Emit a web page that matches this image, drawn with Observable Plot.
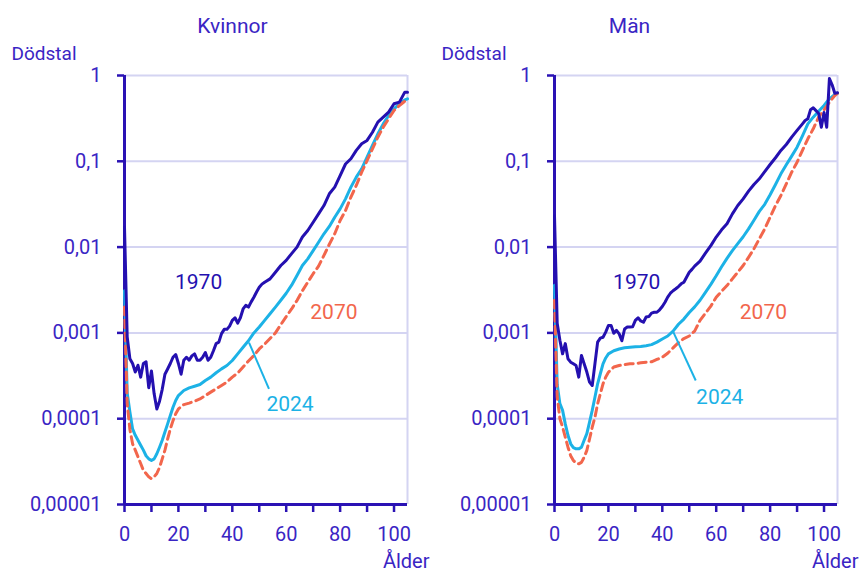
<!DOCTYPE html>
<html><head><meta charset="utf-8">
<script src="https://cdn.jsdelivr.net/npm/d3@7"></script>
<script src="https://cdn.jsdelivr.net/npm/@observablehq/plot@0.6"></script>
<style>
body{margin:0;background:#fff;}
#chart{display:flex;width:861px;height:573px;overflow:hidden;background:#fff;}
#chart svg{display:block;flex:none;}
</style></head><body><div id="chart"></div>
<script>
// ---- texts ----
const panelTitles = ["Kvinnor", "Män"];
const yAxisTitle = "Dödstal";
const xAxisTitle = "Ålder";
const yTicks = [0.00001, 0.0001, 0.001, 0.01, 0.1, 1];
const yTickLabels = ["0,00001", "0,0001", "0,001", "0,01", "0,1", "1"];
const xTicks = [0, 10, 20, 30, 40, 50, 60, 70, 80, 90, 100];
const xTickLabels = ["0", "", "20", "", "40", "", "60", "", "80", "", "100"];
const seriesNames = ["1970", "2024", "2070"];

// ---- ages ----
const agesSmooth = [0,1,2,3,4,5,6,7,8,9,10,11,12,13,14,15,16,17,18,19,20,
  22,24,26,28,30,32,34,36,38,40,42,44,46,48,50,52,54,56,58,60,62,64,66,68,70,72,74,76,78,80,
  82,84,86,88,90,92,94,96,98,100,102,104,105];
const ages1970Kvinnor = [0,1,2,3,4,5,6,7,8,9,10,11,12,13,14,15,16,17,18,19,20,21,22,23,24,25,26,27,28,29,30,
  31,32,33,34,35,36,37,38,39,40,41,42,43,44,45,46,47,48,49,50,51,52,
  54,56,58,60,62,64,66,68,70,72,74,76,78,80,82,84,86,88,90,92,94,96,98,100,102,104,105];
const ages1970Man = [0,1,2,3,4,5,6,7,8,9,10,11,12,13,14,15,16,17,18,19,20,21,22,23,24,25,26,27,28,29,30,
  31,32,33,34,35,36,37,38,39,40,41,42,43,44,45,46,47,48,49,50,51,52,
  54,56,58,60,62,64,66,68,70,72,74,76,78,80,82,84,86,88,90,92,93,94,95,96,97,98,99,100,101,102,103,104,105];

// ---- Kvinnor ----
const kvinnor1970 = [0.017,0.0009,0.0005,0.00044,0.00035,0.00042,0.000305,0.00044,0.00046,0.00023,0.00036,
  0.000195,0.00013,0.00016,0.00022,0.00033,0.00038,0.00044,0.00052,0.00056,0.00044,
  0.00033,0.00048,0.00052,0.00048,0.00054,0.00057,0.00048,0.00048,0.00052,0.00059,
  0.00048,0.00052,0.00062,0.00075,0.00078,0.00098,0.0011,0.0011,0.0012,0.0014,
  0.0015,0.0013,0.0015,0.0019,0.0021,0.0020,0.0023,0.0026,0.0030,0.0034,0.0037,0.0039,
  0.00426,0.0051,0.0061,0.0070,0.0084,0.010,0.0131,0.0156,0.0195,0.0244,0.0305,0.0418,0.050,0.0683,
  0.093,0.107,0.134,0.16,0.175,0.218,0.286,0.327,0.374,0.468,0.489,0.64,0.64];
const kvinnor2024 = [0.0031,0.0002,0.00012,0.000076,0.000064,0.000056,0.000049,0.000043,0.000037,0.000034,0.0000326,
  0.000034,0.000039,0.0000465,0.000056,0.00007,0.000087,0.000109,0.000136,0.000163,0.000186,
  0.000213,0.000229,0.000239,0.00025,0.000279,0.000305,0.000343,0.000381,0.000417,0.000477,
  0.00057,0.00068,0.00081,0.0010,0.00117,0.0014,0.00167,0.0020,0.0024,0.0029,0.0036,0.00467,
  0.0061,0.0073,0.0091,0.0114,0.0143,0.0174,0.0223,0.0279,0.0365,0.05,0.0653,0.0817,0.112,
  0.153,0.209,0.273,0.342,0.409,0.468,0.52,0.535];
const kvinnor2070 = [0.002,0.00015,0.000075,0.000051,0.000043,0.000036,0.00003,0.000025,0.000023,0.000021,0.00002,
  0.000021,0.000023,0.000027,0.000034,0.000043,0.000058,0.000076,0.000095,0.000114,0.00013,
  0.000146,0.000152,0.00016,0.00017,0.000186,0.000204,0.000223,0.000244,0.000267,0.000305,
  0.00034,0.0004,0.00047,0.000545,0.00065,0.00074,0.00086,0.0010,0.00125,0.00155,0.0019,0.00239,
  0.0031,0.0039,0.0049,0.006,0.008,0.0108,0.0143,0.0204,0.0267,0.0382,0.0523,0.0747,0.102,
  0.14,0.191,0.25,0.313,0.391,0.447,0.502,0.52];

// ---- Män ----
const man1970 = [0.023,0.0013,0.00082,0.00057,0.00075,0.0005,0.000456,0.000436,0.000417,0.000305,0.000545,
  0.000436,0.00035,0.000267,0.000244,0.000436,0.00078,0.00087,0.00089,0.00102,0.00122,
  0.00122,0.00099,0.00107,0.000975,0.00081,0.00111,0.00117,0.00117,0.00118,0.0014,
  0.0015,0.00138,0.00133,0.00153,0.00155,0.0017,0.00174,0.00174,0.00186,0.00203,
  0.00228,0.00261,0.0029,0.0031,0.00327,0.00347,0.00373,0.0039,0.00446,0.0051,0.0055,0.006,
  0.00686,0.0085,0.0104,0.0131,0.0159,0.0187,0.0244,0.0305,0.0365,0.0449,0.0537,0.0625,0.076,0.0918,
  0.11,0.134,0.157,0.191,0.229,0.273,0.299,0.313,0.40,0.42,0.39,0.36,0.25,0.37,0.25,0.92,0.78,0.62,0.63];
const man2024 = [0.0036,0.00025,0.00015,0.000125,0.000087,0.000064,0.000051,0.000046,0.0000445,0.0000445,0.0000465,
  0.000056,0.000067,0.000091,0.000125,0.000178,0.000255,0.000334,0.000436,0.00051,0.00057,
  0.00062,0.00065,0.00067,0.00068,0.00069,0.000695,0.00071,0.00073,0.00078,0.00085,
  0.00092,0.00105,0.00126,0.00145,0.00173,0.00201,0.0024,0.00297,0.00368,0.00463,0.0059,0.0074,
  0.0091,0.011,0.0132,0.0163,0.0206,0.0261,0.0315,0.0407,0.0537,0.0714,0.091,0.115,0.146,
  0.198,0.273,0.327,0.384,0.447,0.535,0.60,0.62];
const man2070 = [0.0024,0.00018,0.0001,0.00008,0.000061,0.0000465,0.000037,0.0000326,0.0000303,0.0000298,0.000031,
  0.0000356,0.0000427,0.000058,0.0000796,0.000104,0.000149,0.000195,0.000255,0.000305,0.000348,
  0.0004,0.000417,0.000428,0.000436,0.00044,0.000448,0.000456,0.00046,0.00049,0.00052,
  0.00058,0.00067,0.00077,0.00086,0.00092,0.00105,0.0014,0.0017,0.00205,0.0026,0.00306,0.00356,
  0.00426,0.0051,0.0061,0.0076,0.00955,0.0125,0.0163,0.0223,0.0305,0.04,0.0546,0.0747,0.0977,
  0.134,0.183,0.239,0.327,0.398,0.489,0.585,0.62];

// ---- annotations (data coordinates) ----
const labelAgesKvinnor = [27.5, 61.4, 77.7];
const labelRatesKvinnor = [0.00387, 0.000147, 0.00173];
const labelAgesMan = [30.5, 61.3, 77.5];
const labelRatesMan = [0.00387, 0.000177, 0.00173];
const connectorKvinnor = [46.2, 0.00077, 53.6, 0.000223];
const connectorMan = [44.1, 0.00102, 52.4, 0.000279];

// ---- styles ----
const colors = {"1970": "#2410b0", "2024": "#1cb2e6", "2070": "#f2664c"};
const textColor = "#3a25c4";
const axisColor = "#2a12b4";
const gridColor = "#d4d4f2";
const font = "Roboto, 'Open Sans', sans-serif";

function rows(ages, rates) { return ages.map((a, i) => ({age: a, rate: rates[i]})); }

function panel(title, titleDx, s1970, s2024, s2070, labAges, labRates, conn, width, marginRight, xTitleDx) {
  const yMap = new Map(yTicks.map((t, i) => [t, yTickLabels[i]]));
  const xMap = new Map(xTicks.map((t, i) => [t, xTickLabels[i]]));
  const labels = seriesNames.map((s, i) => ({age: labAges[i], rate: labRates[i], text: s}));
  return Plot.plot({
    width, height: 573,
    marginLeft: 124, marginRight, marginTop: 75, marginBottom: 69,
    style: {fontFamily: font, fontSize: "20px", color: textColor, background: "white", overflow: "visible"},
    x: {domain: [0, 105]},
    y: {type: "log", domain: [0.00001, 1]},
    marks: [
      Plot.gridY(yTicks, {stroke: gridColor, strokeOpacity: 1, strokeWidth: 2}),
      Plot.ruleX([105], {stroke: gridColor, strokeWidth: 2}),
      Plot.axisY(yTicks, {tickFormat: d => yMap.get(d), tickSize: 7, tickPadding: 16, stroke: axisColor, strokeWidth: 2.5, fill: textColor, label: null, fontSize: 20}),
      Plot.axisX(xTicks, {tickFormat: d => xMap.get(d), tickSize: 8, tickPadding: 14, stroke: axisColor, strokeWidth: 2.5, fill: textColor, label: null, fontSize: 20}),
      Plot.ruleY([0.00001], {stroke: axisColor, strokeWidth: 3}),
      Plot.ruleX([0], {stroke: axisColor, strokeWidth: 3}),
      Plot.line(s2024, {x: "age", y: "rate", stroke: colors["2024"], strokeWidth: 3}),
      Plot.line(s2070, {x: "age", y: "rate", stroke: colors["2070"], strokeWidth: 3, strokeDasharray: "8,5"}),
      Plot.line(s1970, {x: "age", y: "rate", stroke: colors["1970"], strokeWidth: 3}),
      Plot.link([conn], {x1: d => d[0], y1: d => d[1], x2: d => d[2], y2: d => d[3], stroke: colors["2024"], strokeWidth: 2}),
      Plot.text(labels, {x: "age", y: "rate", text: "text", fill: d => colors[d.text], fontSize: 21, lineAnchor: "middle"}),
      Plot.text([title], {frameAnchor: "top-left", dx: titleDx, dy: -49, textAnchor: "middle", lineAnchor: "middle", fontSize: 21, fill: textColor}),
      Plot.text([yAxisTitle], {frameAnchor: "top-left", dx: -113, dy: -22, textAnchor: "start", lineAnchor: "middle", fontSize: 19, fill: textColor}),
      Plot.text([xAxisTitle], {frameAnchor: "bottom-right", dx: xTitleDx, dy: 57, textAnchor: "end", lineAnchor: "middle", fontSize: 20, fill: textColor})
    ]
  });
}

const chart = document.getElementById("chart");
chart.append(panel(panelTitles[0], 108,
  rows(ages1970Kvinnor, kvinnor1970), rows(agesSmooth, kvinnor2024), rows(agesSmooth, kvinnor2070),
  labelAgesKvinnor, labelRatesKvinnor, connectorKvinnor, 430, 23, 22));
chart.append(panel(panelTitles[1], 75,
  rows(ages1970Man, man1970), rows(agesSmooth, man2024), rows(agesSmooth, man2070),
  labelAgesMan, labelRatesMan, connectorMan, 431, 24, 21));
</script></body></html>
